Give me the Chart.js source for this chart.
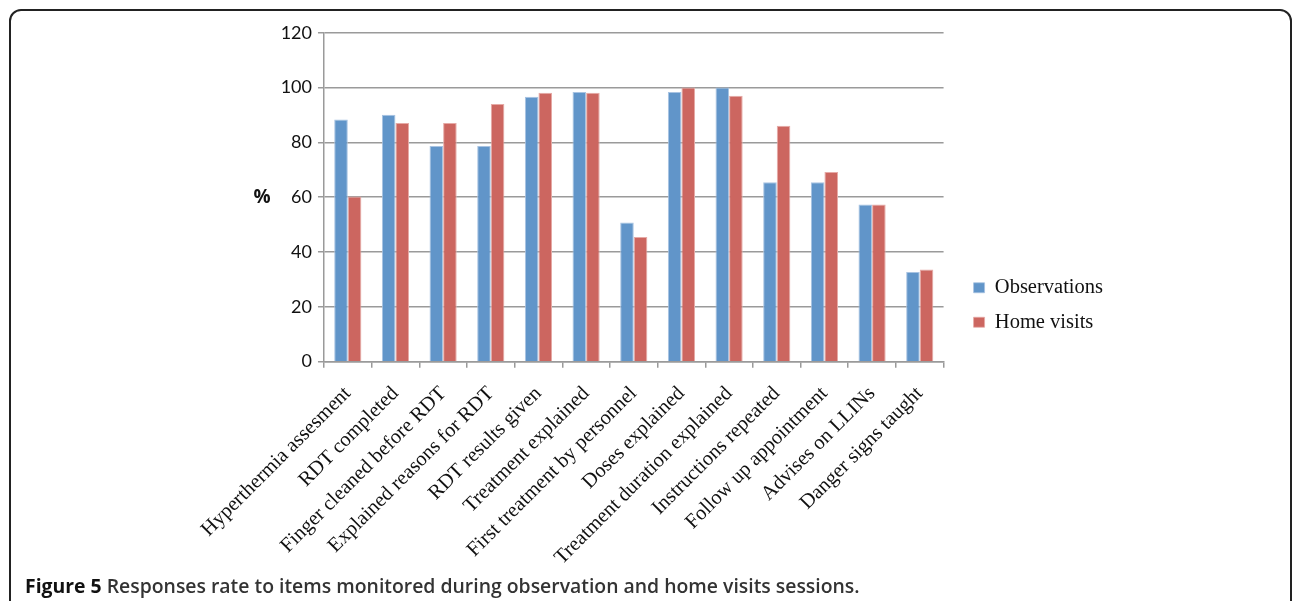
<!DOCTYPE html>
<html>
<head>
<meta charset="utf-8">
<script src="https://cdn.jsdelivr.net/npm/chart.js@4.4.1/dist/chart.umd.min.js"></script>
<style>
  body { margin: 0; background: #fff; width: 1292px; height: 601px; overflow: hidden; position: relative; }
  #frame { position: absolute; left: 9px; top: 9px; width: 1279px; height: 640px; border: 2px solid #222; border-radius: 12px; }
  #wrap { position: absolute; left: 189px; top: 16px; width: 924px; height: 568px; }
  #caption { position: absolute; left: 25px; top: 572px; font-family: "Open Sans", sans-serif; font-size: 19.4px; font-weight: 600; color: #333; white-space: nowrap; }
  #caption b { color: #111; font-weight: 700; }
</style>
</head>
<body>
<div id="frame"></div>
<div id="wrap"><canvas id="chart"></canvas></div>
<div id="caption"><b>Figure 5</b> Responses rate to items monitored during observation and home visits sessions.</div>
<script>
// Données
var categories = [
  "Hyperthermia assesment",
  "RDT completed",
  "Finger cleaned before RDT",
  "Explained reasons for RDT",
  "RDT results given",
  "Treatment explained",
  "First treatment by personnel",
  "Doses explained",
  "Treatment duration explained",
  "Instructions repeated",
  "Follow up appointment",
  "Advises on LLINs",
  "Danger signs taught",
];
var observations = [88.4, 90.1, 78.7, 78.7, 96.7, 98.4, 50.8, 98.4, 100, 65.5, 65.5, 57.3, 32.7];
var homeVisits = [60.3, 87.1, 87.1, 94.0, 98.1, 98.1, 45.5, 100, 97.0, 86.1, 69.2, 57.3, 33.6];
var yTicks = [0, 20, 40, 60, 80, 100, 120];

// Label "%" horizontal a gauche de l'axe
var percentLabel = {
  id: "percentLabel",
  afterLayout: function (chart) {
    // decaler la legende vers la droite
    chart.legend.left += 16;
    chart.legend.right += 16;
    chart.legend.top += 2;
    chart.legend.bottom += 2;
  },
  afterDraw: function (chart) {
    var ctx = chart.ctx;
    var area = chart.chartArea;
    ctx.save();
    ctx.font = "bold 19px 'Open Sans', sans-serif";
    ctx.fillStyle = "#111";
    ctx.textAlign = "center";
    ctx.textBaseline = "middle";
    ctx.fillText("%", area.left - 62, (area.top + area.bottom) / 2);
    ctx.restore();
  },
};

var ctx = document.getElementById("chart").getContext("2d");
var chart = new Chart(ctx, {
  type: "bar",
  data: {
    labels: categories,
    datasets: [
      {
        label: "Observations",
        data: observations,
        backgroundColor: "#6195C9",
        borderColor: "#A8C3E2",
        borderWidth: { top: 1, left: 1, right: 1, bottom: 0 },
        barPercentage: 1.0,
        categoryPercentage: 0.57,
      },
      {
        label: "Home visits",
        data: homeVisits,
        backgroundColor: "#CC6660",
        borderColor: "#E6AAA6",
        borderWidth: { top: 1, left: 1, right: 1, bottom: 0 },
        barPercentage: 1.0,
        categoryPercentage: 0.57,
      },
    ],
  },
  options: {
    responsive: true,
    maintainAspectRatio: false,
    animation: false,
    layout: { padding: { left: 0, top: 6, right: 16, bottom: 0 } },
    plugins: {
      legend: {
        display: true,
        position: "right",
        labels: {
          color: "#111",
          boxWidth: 11,
          boxHeight: 10,
          padding: 14,
          font: { family: "'Liberation Serif', serif", size: 20.5 },
        },
      },
      title: { display: false },
      tooltip: { enabled: false },
    },
    scales: {
      x: {
        grid: {
          offset: true,
          drawOnChartArea: false,
          drawTicks: true,
          tickLength: 6,
          color: "#9A9A9A",
          lineWidth: 1.5,
        },
        border: { color: "#9A9A9A", width: 1.5 },
        ticks: {
          color: "#111",
          autoSkip: false,
          maxRotation: 45,
          minRotation: 45,
          padding: 14,
          font: { family: "'Liberation Serif', serif", size: 20.5 },
        },
      },
      y: {
        min: 0,
        max: 120,
        afterBuildTicks: function (axis) {
          axis.ticks = yTicks.map(function (v) { return { value: v }; });
        },
        grid: {
          color: "#9A9A9A",
          lineWidth: 1.5,
          tickLength: 6,
        },
        border: { color: "#9A9A9A", width: 1.5 },
        ticks: {
          color: "#111",
          padding: 6,
          font: { family: "Lato, sans-serif", size: 18 },
        },
      },
    },
  },
  plugins: [percentLabel],
});
</script>
</body>
</html>
